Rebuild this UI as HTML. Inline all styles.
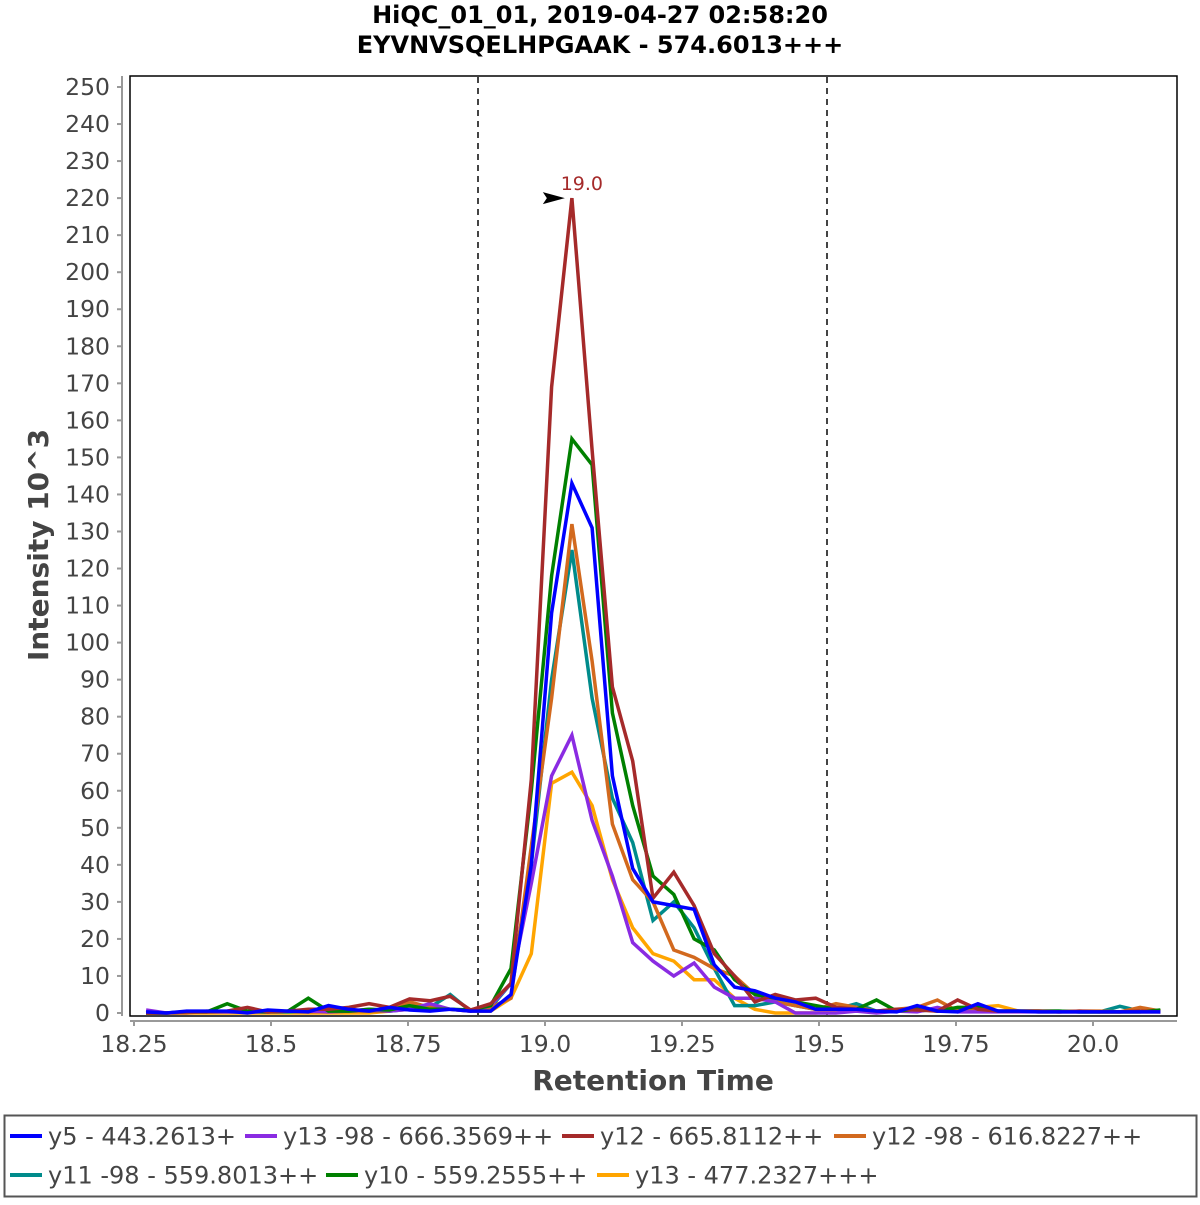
<!DOCTYPE html>
<html><head><meta charset="utf-8"><style>
body{margin:0;background:#fff;}
svg text{font-family:"DejaVu Sans","Liberation Sans",sans-serif;}
</style></head><body>
<svg id="chart" width="1200" height="1200" viewBox="0 0 1200 1200" xmlns="http://www.w3.org/2000/svg">
<rect x="0" y="0" width="1200" height="1200" fill="#fff"/>
<text x="600" y="23" text-anchor="middle" font-size="24" font-weight="bold" fill="#000">HiQC_01_01, 2019-04-27 02:58:20</text>
<text x="600" y="53" text-anchor="middle" font-size="24" font-weight="bold" fill="#000">EYVNVSQELHPGAAK - 574.6013+++</text>
<g id="yaxis"></g>
<g id="xaxis"></g>
<rect x="130" y="76" width="1047" height="940" fill="none" stroke="#000" stroke-width="1.5"/>
<line x1="478" y1="77" x2="478" y2="1015" stroke="#444" stroke-width="2" stroke-dasharray="6,5"/>
<line x1="827" y1="77" x2="827" y2="1015" stroke="#444" stroke-width="2" stroke-dasharray="6,5"/>
<g id="series"></g>
<g id="annot"></g>
<text transform="translate(48,545) rotate(-90)" text-anchor="middle" font-size="28" font-weight="bold" fill="#444">Intensity 10^3</text>
<text x="653" y="1090" text-anchor="middle" font-size="28" font-weight="bold" fill="#444">Retention Time</text>
<rect x="4.5" y="1115.5" width="1192" height="81" fill="#fff" stroke="#555" stroke-width="2"/>
<g id="legend"></g>
</svg>
<script>
const times=[18.272,18.309,18.346,18.383,18.420,18.457,18.494,18.531,18.568,18.605,18.642,18.679,18.716,18.753,18.790,18.827,18.864,18.901,18.938,18.975,19.012,19.049,19.086,19.123,19.160,19.197,19.235,19.272,19.309,19.346,19.383,19.420,19.457,19.494,19.531,19.568,19.605,19.642,19.679,19.716,19.753,19.790,19.827,19.864,19.901,19.938,19.975,20.012,20.049,20.086,20.123];
const y5=[0.3,0,0.5,0.5,0.5,0,0.8,0.5,0.3,2,1,0.5,1.5,0.8,0.5,1,0.5,0.5,5,40,108,143,131,64,39,30,29,28,13,7,6,4,3,1,1,1,0.5,0.3,2,0.5,0.3,2.5,0.5,0.5,0.3,0.3,0.3,0.3,0.3,0.3,0.3];
const y13_98=[0.8,0,0.3,0.3,0.3,0.3,0.3,0.5,0.5,0.3,0.5,1,0.5,1,2.5,1,0.5,2,8,35,64,75,52,37,19,14,10,13.5,7,4,4,3,0,0,0,0.5,0,0.5,0.3,1.5,0.3,0.3,0.3,0.3,0.3,0.3,0.3,0.3,0.3,0.3,0.3];
const y12=[0,0,0.3,0.3,0.5,1.5,0.3,0.5,1,1,1.5,2.5,1.5,3.8,3.3,4.5,0.8,2.5,8,63,169,220,152,88,68,31,38,29,16,10,3,5,3.5,4,1.5,1,0.5,1,0.8,0.5,3.5,1,0.5,0.5,0.5,0.3,0.5,0.3,0.3,0.5,0.3];
const y12_98=[0,0,0,0.5,0.3,0.3,0.3,0.5,0.3,0.5,0.5,0.5,0.5,3,1.5,1,0.5,1.5,4,45,85,132,95,51,36,30,17,15,12,10,5,3,2,1,2.5,1.5,0.5,1,1.5,3.5,0.5,1,0.5,0.5,0.5,0.3,0.5,0.5,0.3,1.5,0.5];
const y11_98=[0,0,0.3,0.3,0.3,0.3,0.3,0.3,0.5,0.5,0.5,0.5,0.5,1,1.5,5,0.5,1.5,8,40,90,125,85,58,46,25,30,23,12,2,2,3,2,1,1,2.5,0.5,0.5,0.5,1,0.5,1.5,0.5,0.5,0.5,0.5,0.3,0.3,1.8,0.5,0.5];
const y10=[0,0,0.3,0.3,2.5,0.5,0.3,0.5,4,0.5,0.5,1,0.8,2,1,1,0.8,2,12,60,118,155,148,81,56,37,32,20,17,9,5,4,3,2,1,1,3.5,0.5,1,0.5,1.5,1.5,0.5,0.5,0.5,0.5,0.3,0.3,0.3,0.3,0.8];
const y13=[0,0,0,0,0,0,0,0,0,0,0,0,0.5,2,1,1,0.5,0.5,4,16,62,65,56,36,23,16,14,9,9,4,1,0,0,0,0.5,0.5,0.5,0.5,1,0.5,1,1.5,2,0.5,0.3,0.3,0.3,0.3,0.3,0.3,0.3];
const seriesNames=["y5 - 443.2613+","y13 -98 - 666.3569++","y12 - 665.8112++","y12 -98 - 616.8227++","y11 -98 - 559.8013++","y10 - 559.2555++","y13 - 477.2327+++"];
const yTicks=[0,10,20,30,40,50,60,70,80,90,100,110,120,130,140,150,160,170,180,190,200,210,220,230,240,250];
const xTicks=[18.25,18.5,18.75,19.0,19.25,19.5,19.75,20.0];
const xTickLabels=["18.25","18.5","18.75","19.0","19.25","19.5","19.75","20.0"];
const peakLabel="19.0";

const NS="http://www.w3.org/2000/svg";
function X(t){return 134+(t-18.25)*548;}
function Y(v){return 1013-v*3.704;}
function mk(tag,attrs,parent){const e=document.createElementNS(NS,tag);for(const k in attrs)e.setAttribute(k,attrs[k]);parent.appendChild(e);return e;}

const ya=document.getElementById('yaxis');
const yl=mk('line',{x1:122,y1:76,x2:122,y2:1016,stroke:'#999','stroke-width':2},ya);


yTicks.forEach(v=>{
  const tk=mk('line',{x1:117,y1:Y(v),x2:122,y2:Y(v),stroke:'#999','stroke-width':2},ya);
  
  
  const tx=mk('text',{x:110,y:Y(v)+8,'text-anchor':'end','font-size':23.5,fill:'#444'},ya);
  
  
  tx.textContent=v;
});
const xa=document.getElementById('xaxis');
const xl=mk('line',{x1:130,y1:1021,x2:1177,y2:1021,stroke:'#999','stroke-width':2},xa);


xTicks.forEach((t,i)=>{
  const tk=mk('line',{x1:X(t),y1:1021,x2:X(t),y2:1026,stroke:'#999','stroke-width':2},xa);
  
  
  const tx=mk('text',{x:X(t),y:1052,'text-anchor':'middle','font-size':23.5,fill:'#444'},xa);
  
  
  tx.textContent=xTickLabels[i];
});

const allSeries=[y5,y13_98,y12,y12_98,y11_98,y10,y13];
const colors=["#0000ff","#8a2be2","#a52a2a","#d2691e","#008b8b","#008000","#ffa500"];
const drawOrder=[6,4,3,1,5,2,0];
const sg=document.getElementById('series');
drawOrder.forEach(si=>{
  const d=allSeries[si].map((v,i)=>(i?'L':'M')+X(times[i]).toFixed(1)+','+Y(v).toFixed(1)).join(' ');
  const p=mk('path',{d:d,fill:'none',stroke:colors[si],'stroke-width':3.5,'stroke-linejoin':'miter'},sg);
  
  
});
const an=document.getElementById('annot');
let pi=0;y12.forEach((v,i)=>{if(v>y12[pi])pi=i;});
const px=X(times[pi]),py=Y(y12[pi]);
const arr=mk('polygon',{points:(px-29)+','+(py-6)+' '+(px-7)+','+py+' '+(px-29)+','+(py+6)+' '+(px-25)+','+py,fill:'#000'},an);


const at=mk('text',{x:px+10,y:py-8,'text-anchor':'middle','font-size':19,fill:'#a52a2a'},an);


at.textContent=peakLabel;

const lg=document.getElementById('legend');
const lpos=[[10,1136],[245,1136],[562,1136],[834,1136],[10,1175],[326,1175],[597,1175]];
seriesNames.forEach((n,i)=>{
  const [lx,ly]=lpos[i];
  const ln=mk('line',{x1:lx,y1:ly,x2:lx+32,y2:ly,stroke:colors[i],'stroke-width':4},lg);
  
  
  const tx=mk('text',{x:lx+38,y:ly+8.5,'font-size':24,fill:'#444'},lg);
  
  
  tx.textContent=n;
});
</script>
</body></html>
